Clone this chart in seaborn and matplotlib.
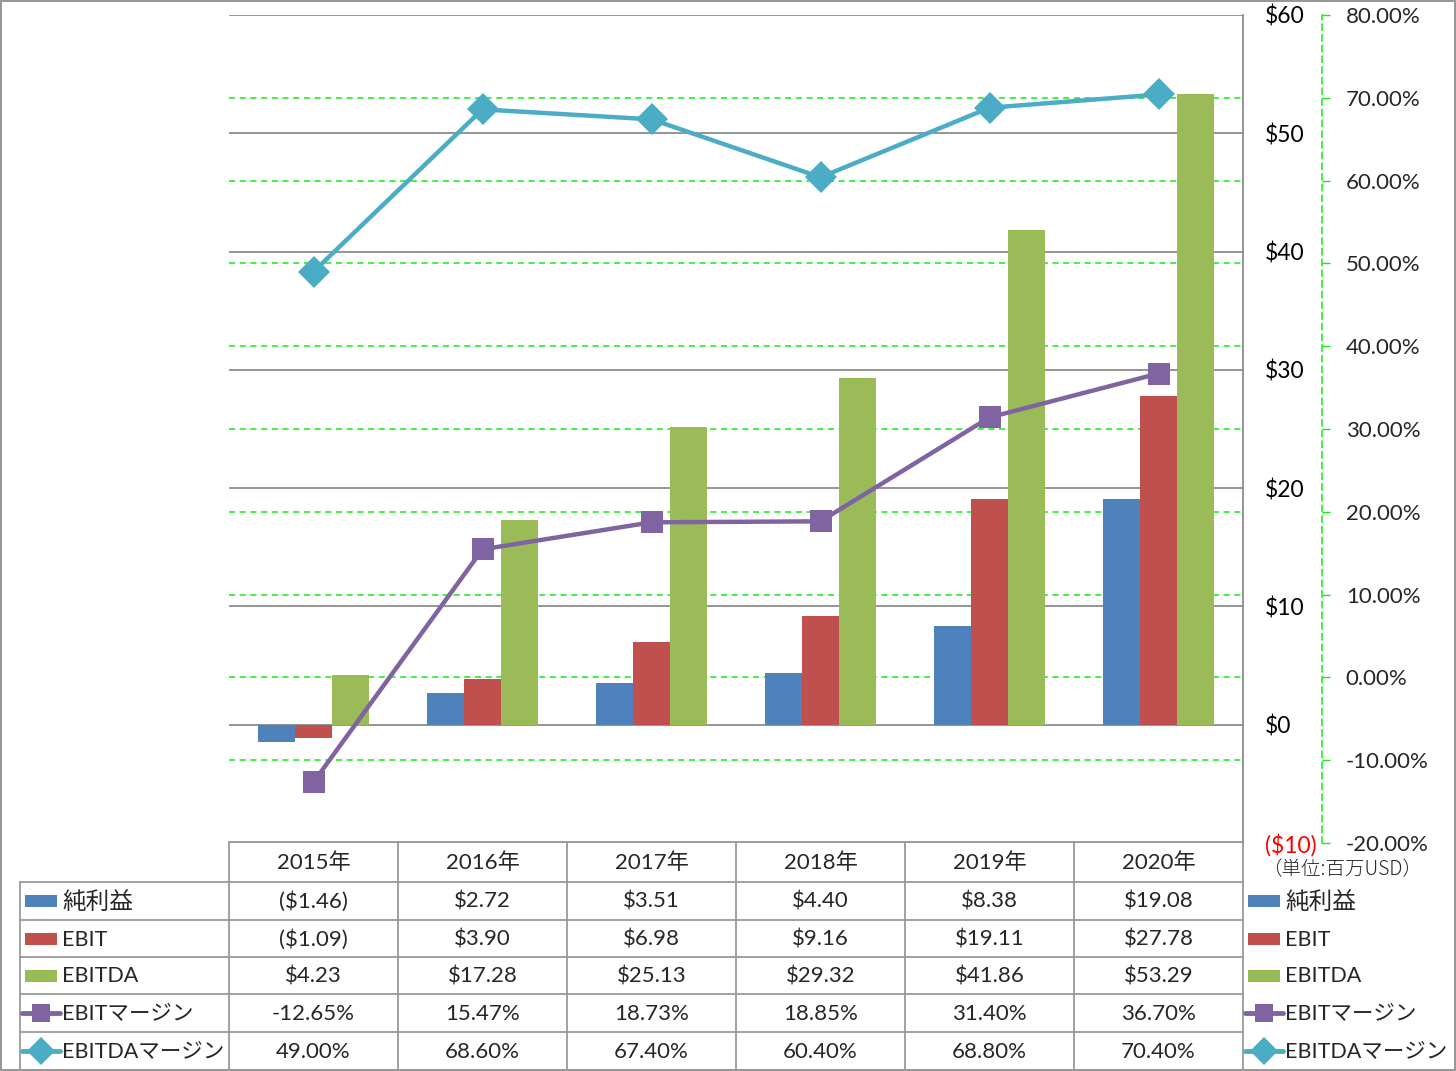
import numpy as np
import pandas as pd
import matplotlib
matplotlib.use('Agg')
import matplotlib.pyplot as plt
from matplotlib.patches import Rectangle
from matplotlib.lines import Line2D
import seaborn as sns

# data (百万USD / %)
years = ['2015年', '2016年', '2017年', '2018年', '2019年', '2020年']
net_income = [-1.46, 2.72, 3.51, 4.40, 8.38, 19.08]
ebit = [-1.09, 3.90, 6.98, 9.16, 19.11, 27.78]
ebitda = [4.23, 17.28, 25.13, 29.32, 41.86, 53.29]
ebit_margin = [-12.65, 15.47, 18.73, 18.85, 31.40, 36.70]
ebitda_margin = [49.00, 68.60, 67.40, 60.40, 68.80, 70.40]

bar_names = ['純利益', 'EBIT', 'EBITDA']
line_names = ['EBITマージン', 'EBITDAマージン']
dollar_ticks = [-10, 0, 10, 20, 30, 40, 50, 60]
pct_ticks = [-20, -10, 0, 10, 20, 30, 40, 50, 60, 70, 80]

bar_colors = ['#4F81BD', '#C0504D', '#9BBB59']
line_colors = ['#8064A2', '#4BACC6']
green = '#11EE11'
gray = '#8C8C8C'

sns.set_theme(style='white')
plt.rcParams['font.family'] = ['Lato', 'Noto Sans CJK JP', 'DejaVu Sans']
plt.rcParams['text.parse_math'] = False

W, H = 1456, 1071
fig = plt.figure(figsize=(W / 100, H / 100), dpi=100)
fig.patch.set_facecolor('white')

ax = fig.add_axes([229 / W, 1 - 843 / H, 1014 / W, 828 / H])

df = pd.DataFrame({
    'year': years * 3,
    'series': sum([[n] * len(years) for n in bar_names], []),
    'value': net_income + ebit + ebitda,
})
sns.barplot(data=df, x='year', y='value', hue='series', order=years,
            hue_order=bar_names, palette=bar_colors, width=0.66,
            saturation=1, errorbar=None, legend=False, linewidth=0, ax=ax)

ax2 = ax.twinx()

ax.set_ylim(-10, 60)
ax.set_xlim(-0.5, len(years) - 0.5)
ax.set_xlabel('')
ax.set_ylabel('')
ax.set_axisbelow(True)
ax.yaxis.tick_right()
ax.set_yticks(dollar_ticks)
ax.set_yticklabels([f'(${abs(v)})' if v < 0 else f'${v}' for v in dollar_ticks])
for lbl, v in zip(ax.get_yticklabels(), dollar_ticks):
    lbl.set_color('red' if v < 0 else 'black')
# % gridlines mapped onto the $ scale
ax.set_yticks([(p + 20) / 100 * 70 - 10 for p in pct_ticks], minor=True)
ax.grid(axis='y', which='major', color=gray, lw=1.3, ls='-')
ax.grid(axis='y', which='minor', color=green, lw=1.1, ls=(0, (4, 3)))
ax.tick_params(axis='y', which='both', length=0, pad=16, labelsize=16.5,
               left=False, labelleft=False, right=True, labelright=True)
ax.tick_params(axis='x', bottom=False, labelbottom=False)
for s in ['top', 'left', 'bottom']:
    ax.spines[s].set_visible(False)
ax.spines['right'].set_color(gray)
ax.spines['right'].set_linewidth(1.3)

x = np.arange(len(years))
sns.lineplot(x=x, y=ebit_margin, ax=ax2, color=line_colors[0], lw=3.2,
             marker='s', markersize=16, markeredgewidth=0)
sns.lineplot(x=x, y=ebitda_margin, ax=ax2, color=line_colors[1], lw=3.2,
             marker='D', markersize=16, markeredgewidth=0)
ax2.set_ylim(-20, 80)
ax2.set_yticks(pct_ticks)
ax2.set_yticklabels([f'{p:.2f}%' for p in pct_ticks])
for lbl, p in zip(ax2.get_yticklabels(), pct_ticks):
    lbl.set_color('red' if p < 0 else 'black')
ax2.tick_params(axis='y', length=6, width=1, color=green, direction='out',
                pad=11, labelsize=16)
ax2.grid(False)
for s in ['top', 'left', 'bottom']:
    ax2.spines[s].set_visible(False)
ax2.spines['right'].set_position(('outward', 57))
ax2.spines['right'].set_color(green)
ax2.spines['right'].set_linestyle((0, (4, 3)))
ax2.spines['right'].set_linewidth(1.1)
ax2.set_xlim(-0.5, len(years) - 0.5)

# data table drawn in pixel space
tab = fig.add_axes([0, 0, 1, 1])
tab.set_xlim(0, W)
tab.set_ylim(H, 0)
tab.axis('off')
tab.patch.set_visible(False)
tab.set_zorder(5)

x0, cw = 229, 169
rows = [842, 882, 920, 957, 994, 1032, 1070]
lc = '#9A9A9A'
tab.plot([x0, x0 + cw * 6], [rows[0], rows[0]], color=lc, lw=1.3)
for i in range(7):
    tab.plot([x0 + cw * i] * 2, [rows[0], rows[-1]], color=lc, lw=1.3)
for r in rows[1:-1]:
    tab.plot([20, x0 + cw * 6], [r, r], color=lc, lw=1.3)
tab.plot([20, 20], [rows[1], rows[-1]], color=lc, lw=1.3)

for i, yr in enumerate(years):
    tab.text(x0 + cw * (i + 0.5), (rows[0] + rows[1]) / 2 + 1, yr,
             ha='center', va='center', fontsize=16)

def money(v):
    return f'(${abs(v):.2f})' if v < 0 else f'${v:.2f}'

table_rows = [
    (bar_names[0], [money(v) for v in net_income]),
    (bar_names[1], [money(v) for v in ebit]),
    (bar_names[2], [money(v) for v in ebitda]),
    (line_names[0], [f'{v:.2f}%' for v in ebit_margin]),
    (line_names[1], [f'{v:.2f}%' for v in ebitda_margin]),
]
keys = [('bar', bar_colors[0], None), ('bar', bar_colors[1], None),
        ('bar', bar_colors[2], None), ('line', line_colors[0], 's'),
        ('line', line_colors[1], 'D')]

def draw_key(kx, yc, key, name, size):
    kind, col, mk = key
    if kind == 'bar':
        tab.add_patch(Rectangle((kx, yc - 6), 32, 12, color=col, lw=0))
    else:
        tab.add_line(Line2D([kx - 3, kx + 35], [yc, yc], color=col, lw=3.5,
                            marker=None))
        tab.add_line(Line2D([kx + 16], [yc], color=col, marker=mk,
                            markersize=13 if mk == 's' else 14,
                            markeredgewidth=0, lw=0))
    tab.text(kx + 37, yc + 1, name, ha='left', va='center', fontsize=size)

for j, (name, vals) in enumerate(table_rows):
    yc = (rows[j + 1] + rows[j + 2]) / 2
    size = 17 if j == 0 else 15.5
    draw_key(25, yc, keys[j], name, size)
    draw_key(1248, yc, keys[j], name, size)
    for i, s in enumerate(vals):
        tab.text(x0 + cw * (i + 0.5), yc + 1, s, ha='center', va='center',
                 fontsize=16)

tab.text(1262, 870, '（単位:百万USD）', ha='left', va='center', fontsize=14,
         family=['Noto Sans CJK JP', 'DejaVu Sans'], fontweight='light')

tab.add_patch(Rectangle((0.5, 0.5), W - 1.5, H - 1.5, fill=False,
                        edgecolor='#8C8C8C', lw=1.3))

fig.savefig('out.png', dpi=100, facecolor='white')
